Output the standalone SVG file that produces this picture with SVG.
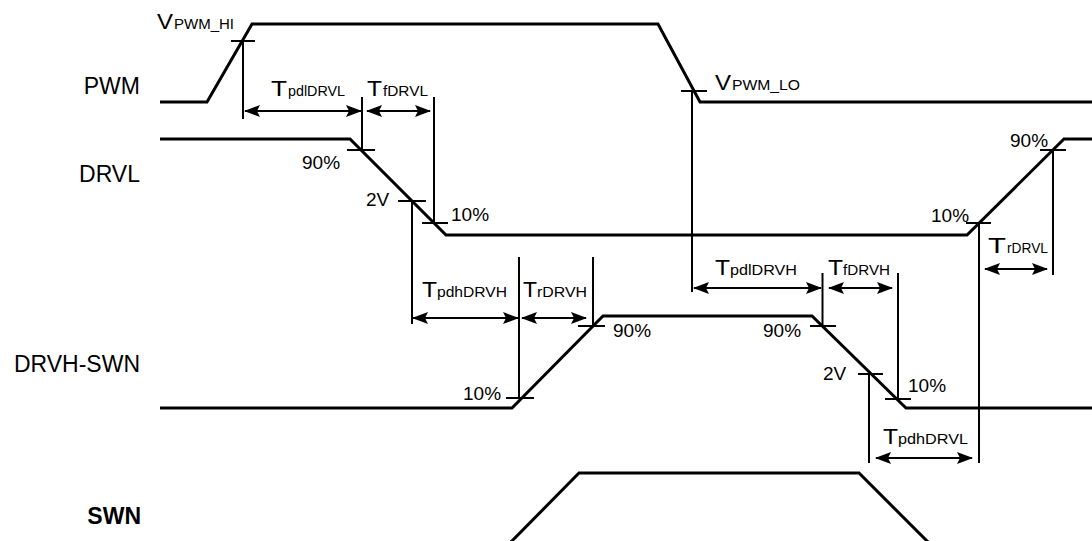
<svg xmlns="http://www.w3.org/2000/svg" width="1092" height="541" viewBox="0 0 1092 541">
<style>
.wave{fill:none;stroke:#000;stroke-width:3;stroke-linejoin:miter}
.dim{fill:none;stroke:#000;stroke-width:2}
.arr{fill:none;stroke:#000;stroke-width:2;marker-start:url(#ah);marker-end:url(#ah)}
.lbl{font-family:"Liberation Sans",Arial,sans-serif;font-size:23px;fill:#000;text-anchor:end}
.b{font-weight:bold}
.pct{font-family:"Liberation Sans",Arial,sans-serif;font-size:19px;fill:#000}
.m{font-family:"Liberation Sans",Arial,sans-serif;font-size:22px;fill:#000}
.s{font-family:"Liberation Sans",Arial,sans-serif;font-size:15px;fill:#000}
</style>
<defs>
<marker id="ah" viewBox="0 0 16 12" refX="15" refY="6" markerWidth="16" markerHeight="12" markerUnits="userSpaceOnUse" orient="auto-start-reverse">
<path d="M0,0 L16,6 L0,12 L3,6 Z" fill="#000"/>
</marker>
</defs>
<rect width="1092" height="541" fill="#fff"/>

<g id="labels">
<text class="lbl" x="140" y="94">PWM</text>
<text class="lbl" x="140" y="182">DRVL</text>
<text class="lbl" x="140" y="372">DRVH-SWN</text>
<text class="lbl b" x="141" y="524">SWN</text>
</g>

<g id="PWM">
<path class="wave" d="M160,102 H207 L252,24 H658 L700,102 H1092"/>
</g>
<g id="DRVL">
<path class="wave" d="M160,139 H350 L446,235 H967 L1064,139 H1092"/>
</g>
<g id="DRVH-SWN">
<path class="wave" d="M160,408 H512 L603,316 H812 L906,408 H1092"/>
</g>
<g id="SWN">
<path class="wave" d="M508,545 L579,473 H859 L931,545"/>
</g>

<g id="connectors">
<path class="dim" d="M243,41 V119 M362,97 V150 M434,97 V223 M412,201 V324 M519,257 V398 M593,257 V326 M692,91 V292 M822.5,273 V326 M898,273 V399 M869,374 V463 M979,223 V463 M1053,150 V275"/>
<path class="dim" d="M231,41 H255 M681,91 H707 M347,150 H375 M398,201 H426 M422,223 H448 M966,223 H991 M1040,150 H1066 M506,398 H534 M578,326 H605 M810,326 H836 M858,374 H883 M885,399 H911"/>
<line class="arr" x1="245" y1="111" x2="361" y2="111"/>
<line class="arr" x1="367" y1="111" x2="430" y2="111"/>
<line class="arr" x1="413" y1="318" x2="518" y2="318"/>
<line class="arr" x1="522" y1="318" x2="586" y2="318"/>
<line class="arr" x1="694" y1="288" x2="821" y2="288"/>
<line class="arr" x1="829" y1="288" x2="892" y2="288"/>
<line class="arr" x1="876" y1="458" x2="972" y2="458"/>
<line class="arr" x1="985" y1="269" x2="1047" y2="269"/>
</g>

<g id="texts">
<text class="m" x="157" y="29" textLength="16" lengthAdjust="spacingAndGlyphs">V</text>
<text class="s" x="174" y="29" textLength="60" lengthAdjust="spacingAndGlyphs">PWM_HI</text>
<text class="m" x="715" y="90" textLength="16" lengthAdjust="spacingAndGlyphs">V</text>
<text class="s" x="732" y="90" textLength="68" lengthAdjust="spacingAndGlyphs">PWM_LO</text>

<text class="m" x="271" y="96" textLength="16" lengthAdjust="spacingAndGlyphs">T</text>
<text class="s" x="288" y="96" textLength="57" lengthAdjust="spacingAndGlyphs">pdlDRVL</text>
<text class="m" x="367" y="96" textLength="15" lengthAdjust="spacingAndGlyphs">T</text>
<text class="s" x="383" y="96" textLength="45" lengthAdjust="spacingAndGlyphs">fDRVL</text>

<text class="m" x="422" y="297" textLength="15" lengthAdjust="spacingAndGlyphs">T</text>
<text class="s" x="437" y="297" textLength="70" lengthAdjust="spacingAndGlyphs">pdhDRVH</text>
<text class="m" x="523" y="297" textLength="14" lengthAdjust="spacingAndGlyphs">T</text>
<text class="s" x="537" y="297" textLength="50" lengthAdjust="spacingAndGlyphs">rDRVH</text>

<text class="m" x="715" y="275" textLength="15" lengthAdjust="spacingAndGlyphs">T</text>
<text class="s" x="730" y="275" textLength="67" lengthAdjust="spacingAndGlyphs">pdlDRVH</text>
<text class="m" x="828" y="275" textLength="15" lengthAdjust="spacingAndGlyphs">T</text>
<text class="s" x="843" y="275" textLength="47" lengthAdjust="spacingAndGlyphs">fDRVH</text>

<text class="m" x="883" y="444" textLength="15" lengthAdjust="spacingAndGlyphs">T</text>
<text class="s" x="898" y="444" textLength="70" lengthAdjust="spacingAndGlyphs">pdhDRVL</text>
<text class="m" x="988" y="253" textLength="18" lengthAdjust="spacingAndGlyphs">T</text>
<text class="s" x="1007" y="253" textLength="41" lengthAdjust="spacingAndGlyphs">rDRVL</text>

<text class="pct" x="302" y="169">90%</text>
<text class="pct" x="366" y="206">2V</text>
<text class="pct" x="451" y="221">10%</text>
<text class="pct" x="931" y="222">10%</text>
<text class="pct" x="1010" y="147">90%</text>
<text class="pct" x="463" y="400">10%</text>
<text class="pct" x="613" y="337">90%</text>
<text class="pct" x="763" y="337">90%</text>
<text class="pct" x="823" y="380">2V</text>
<text class="pct" x="908" y="392">10%</text>
</g>
</svg>
